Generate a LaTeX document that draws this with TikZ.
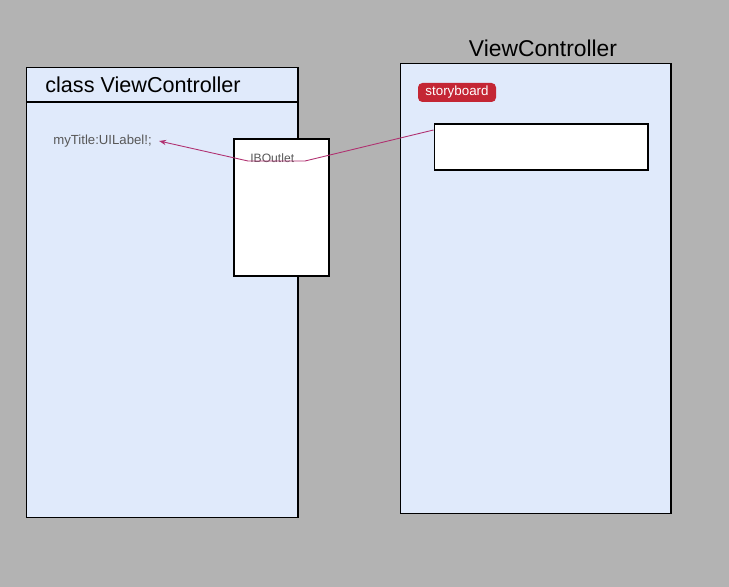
\documentclass[tikz,border=0pt]{standalone}
\usepackage{fontspec}
\setmainfont{Liberation Sans}
\usetikzlibrary{arrows.meta, positioning}
\definecolor{bggray}{RGB}{179,179,179}
\definecolor{panelblue}{RGB}{224,234,251}
\definecolor{linkpink}{RGB}{176,48,112}
\definecolor{badgered}{RGB}{196,38,52}
\definecolor{labelgray}{RGB}{88,88,88}

\tikzset{
  panel/.style={draw=black, fill=panelblue, line width=0.6pt, inner sep=0pt},
  slot/.style={draw=black, fill=white, line width=0.6pt, inner sep=0pt},
  heading/.style={font=\fontsize{12.3}{14}\selectfont, inner sep=0pt},
  member/.style={font=\fontsize{7.5}{9}\selectfont, text=labelgray, inner sep=0pt},
  badge/.style={fill=badgered, rounded corners=2.5pt, text=white, font=\fontsize{7.6}{9}\selectfont,
    minimum width=1.56cm, minimum height=0.38cm, inner sep=0pt},
  outlet/.style={draw=linkpink, line width=0.5pt, -{Stealth[length=4pt,width=3pt]}}
}

\begin{document}
\begin{tikzpicture}[x=0.02cm, y=-0.02cm]
\useasboundingbox (0,0) rectangle (729,587);
\fill[bggray] (0,0) rectangle (729,587);

% class side
\node[panel, minimum width=5.44cm, minimum height=9.02cm] (classbox) at (162,292.5) {};
\draw[line width=0.6pt] (26,102) -- (298,102);
\node[heading, anchor=west] (classtitle) at (45,85) {class ViewController};
\node[member, anchor=west] (mytitle) at (53,141) {myTitle:UILabel!;};

\node[slot, minimum width=1.9cm, minimum height=2.74cm] (outletbox) at (281.5,207.5) {};
\node[member, font=\fontsize{6.9}{8}\selectfont, anchor=west] (outletlbl) at (250,158) {IBOutlet};

% storyboard side
\node[heading, font=\fontsize{13}{15}\selectfont] (vctitle) at (543,48) {ViewController};
\node[panel, minimum width=5.42cm, minimum height=9.02cm] (sceneframe) at (535.5,288.5) {};
\node[badge] (sbbadge) at (457,92.5) {storyboard};
\node[slot, minimum width=4.28cm, minimum height=0.92cm] (labelslot) at (541,147) {};

\coordinate (bendR) at (305,161);
\coordinate (bendL) at (248,161);
\draw[outlet] ([yshift=0.34cm]labelslot.west) -- (bendR) -- (bendL) -- ([xshift=4pt]mytitle.east);
\end{tikzpicture}
\end{document}
